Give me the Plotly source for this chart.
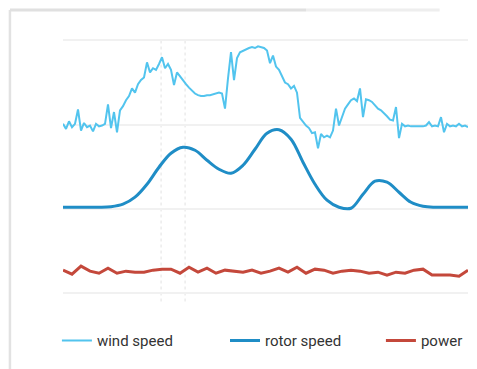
import plotly.graph_objects as go

# Sample index (time) for the wind measurement, one sample per step
wind_t = list(range(136))
wind_speed = [
    20.1, 19.5, 20.4, 19.7, 20.1, 21.8, 19.3, 20.2, 19.7, 19.9,
    19.2, 20.1, 19.8, 19.9, 20.1, 22.4, 19.6, 21.5, 19.1, 21.7,
    22.2, 22.9, 23.4, 24.3, 23.8, 24.8, 25.3, 25.6, 27.4, 26.2,
    26.7, 26.5, 27.2, 28.0, 26.7, 27.2, 26.5, 24.7, 26.2, 25.7,
    25.3, 24.8, 24.4, 24.0, 23.7, 23.5, 23.4, 23.4, 23.5, 23.5,
    23.6, 23.7, 23.8, 23.7, 21.9, 25.5, 28.6, 25.3, 27.9, 28.6,
    28.8, 28.9, 29.1, 29.2, 29.1, 29.3, 29.2, 29.1, 28.8, 27.3,
    28.2, 26.9, 26.5, 25.7, 25.0, 24.8, 24.3, 24.6, 23.8, 20.8,
    20.3, 19.9, 19.6, 19.0, 19.1, 17.2, 18.9, 18.5, 18.7, 18.5,
    19.3, 21.9, 19.9, 21.0, 21.9, 22.4, 22.9, 23.1, 22.8, 24.3,
    20.9, 23.0, 22.9, 22.7, 22.3, 21.9, 21.7, 21.4, 21.0, 20.6,
    20.5, 22.1, 18.4, 20.1, 19.8, 19.9, 19.8, 19.8, 19.8, 19.8,
    19.8, 19.9, 20.3, 19.8, 19.9, 19.8, 20.9, 19.1, 20.1, 19.8,
    19.9, 19.8, 20.1, 19.8, 19.9, 19.7,
]

rotor_t = list(range(0, 136, 4)) + [135]
rotor_speed = [10.20, 10.20, 10.20, 10.20, 10.26, 10.56, 11.39, 12.93, 14.95,
               16.61, 17.32, 16.96, 15.78, 14.71, 14.23, 15.18, 17.08, 18.98,
               19.40, 18.27, 15.54, 12.93, 11.03, 10.20, 10.08, 11.74, 13.29,
               13.17, 11.98, 10.79, 10.32, 10.20, 10.20, 10.20, 10.20]

power_t = list(range(0, 136, 3))
power = [2.73, 2.25, 3.20, 2.61, 2.37, 2.97, 2.37, 2.61, 2.49, 2.49,
         2.73, 2.85, 2.85, 2.37, 3.08, 2.49, 2.97, 2.37, 2.73, 2.61,
         2.49, 2.73, 2.37, 2.61, 2.97, 2.49, 3.08, 2.37, 2.85, 2.73,
         2.37, 2.61, 2.73, 2.61, 2.37, 2.49, 2.14, 2.49, 2.37, 2.73,
         2.85, 2.14, 2.14, 2.14, 2.02, 2.73]

# Dashed reference times
marker_times = [32.7, 40.7]

fig = go.Figure()
fig.add_trace(go.Scatter(x=wind_t, y=wind_speed, mode="lines", name="wind speed",
                         legend="legend",
                         line=dict(color="#52c4ee", width=2)))
fig.add_trace(go.Scatter(x=rotor_t, y=rotor_speed, mode="lines", name="rotor speed",
                         legend="legend2",
                         line=dict(color="#1f8dc6", width=3, shape="spline", smoothing=1.0)))
fig.add_trace(go.Scatter(x=power_t, y=power, mode="lines", name="power",
                         legend="legend3",
                         line=dict(color="#c4483b", width=3)))

for t in marker_times:
    fig.add_shape(type="line", x0=t, x1=t, xref="x", y0=-1, y1=30, yref="y",
                  line=dict(color="#ececec", width=1.5, dash="dot"), layer="below")

# Paper edge frame
fig.add_shape(type="line", xref="paper", yref="paper", x0=-0.131, x1=-0.131,
              y0=1.079, y1=-0.25, line=dict(color="#e2e2e2", width=2.5))
fig.add_shape(type="line", xref="paper", yref="paper", x0=-0.131, x1=0.6,
              y0=1.079, y1=1.079, line=dict(color="#e0e0e0", width=3))
fig.add_shape(type="line", xref="paper", yref="paper", x0=0.6, x1=0.93,
              y0=1.079, y1=1.079, line=dict(color="#eeeeee", width=3))

legend_style = dict(orientation="h", y=-0.051, xanchor="left", yanchor="top",
                    font=dict(size=15, color="#333333"), bgcolor="rgba(0,0,0,0)")

fig.update_layout(
    width=477, height=369,
    margin=dict(l=63, r=9, t=32, b=59),
    paper_bgcolor="white", plot_bgcolor="white",
    font=dict(family="Roboto, Arial, sans-serif", size=15, color="#333333"),
    showlegend=True,
    legend=dict(x=-0.015, **legend_style),
    legend2=dict(x=0.40, **legend_style),
    legend3=dict(x=0.785, **legend_style),
    xaxis=dict(range=[0, 135], showgrid=False, zeroline=False, showticklabels=False,
               showline=False, ticks=""),
    yaxis=dict(range=[-2, 31], tickvals=[0, 10, 20, 30], showgrid=True,
               gridcolor="#f1f1f1", gridwidth=1.5, zeroline=False,
               showticklabels=False, showline=False, ticks=""),
)

fig.write_html("out.html")
